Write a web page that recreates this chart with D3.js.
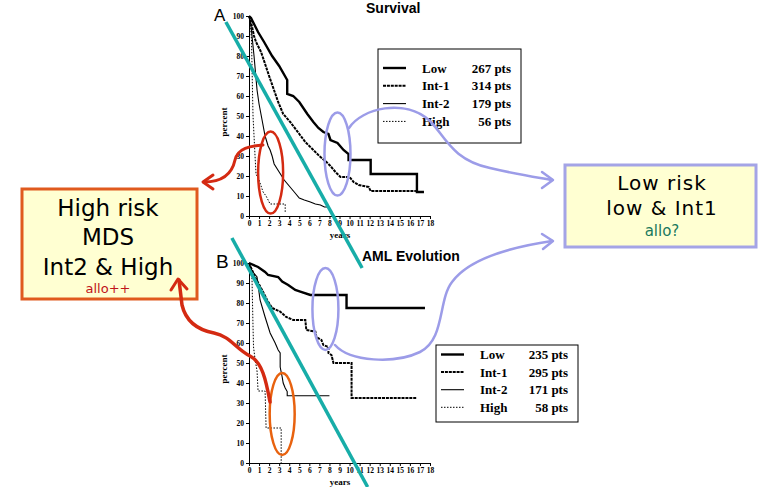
<!DOCTYPE html>
<html>
<head>
<meta charset="utf-8">
<script src="https://cdn.jsdelivr.net/npm/d3@7/dist/d3.min.js"></script>
<style>
  html, body { margin: 0; padding: 0; background: #fff; }
  svg { display: block; }
</style>
</head>
<body>
<div id="chart"></div>
<script>
// ---- Data: Kaplan-Meier estimates by IPSS risk group, [years, percent] ----
const groups = ["Low", "Int-1", "Int-2", "High"];
const survivalPts = [267, 314, 179, 56];
const amlPts = [235, 295, 171, 58];

const survLow  = [[0,100],[0.2,99],[0.4,97],[0.9,92],[1.5,87],[2.3,80],[3.0,75],[3.8,68],[3.8,61],[4.4,60],[5.0,57],[5.8,51],[6.4,47],[6.9,44],[7.4,42],[7.9,41],[8.1,38],[8.8,36.5],[9.4,33],[9.9,31],[9.9,28],[12.1,28],[12.1,21],[16.7,21],[16.7,12],[17.4,12]];
const survInt1 = [[0,100],[0.2,97],[0.5,90],[0.7,87],[1.2,82],[2.0,70],[2.9,57],[3.4,51],[4.1,47],[5.0,41],[5.6,37],[6.4,33],[7.0,30],[7.7,27],[8.1,25],[8.6,22],[9.1,19.5],[10.0,19.5],[10.4,17],[10.9,15.5],[11.9,14.5],[12.1,12.5],[16.6,12.5]];
const survInt2 = [[0,100],[0.2,95],[0.5,80],[0.8,63],[1.0,56],[1.3,48],[1.6,40],[1.9,35],[2.1,33],[2.3,30],[2.5,26],[3.0,22],[3.5,18],[4.0,15],[4.5,12],[5.0,9],[5.5,8],[6.1,7],[6.6,6],[7.1,5.5],[7.5,4.5],[7.9,4.5]];
const survHigh = [[0,100],[0.15,95],[0.25,88],[0.3,75],[0.35,62],[0.4,50],[0.5,40],[0.6,30],[0.7,21],[1.0,18],[1.2,15],[1.4,12],[1.7,10],[1.9,8],[2.1,6],[3.6,6],[3.6,1.5]];

const amlLow  = [[0,100],[0.9,98],[1.6,95.5],[1.9,94],[2.9,93],[3.3,90.7],[3.9,89],[4.6,86.5],[5.1,85.7],[6.1,84],[9.7,84],[9.7,77.5],[17.5,77.5]];
const amlInt1 = [[0,100],[0.6,93],[1.3,86.5],[1.8,81.5],[2.3,77.5],[3.1,75.7],[3.7,73],[4.4,71.5],[5.6,71.5],[5.7,66.5],[6.6,65.7],[6.7,63],[7.2,61.5],[7.4,59],[7.9,58],[7.9,55],[8.2,54],[8.4,50],[10.2,50],[10.2,32.5],[16.7,32.5]];
const amlInt2 = [[0,100],[0.3,96],[0.8,93],[1.1,81.5],[1.6,73],[2.1,65],[2.6,60],[2.9,56.5],[3.1,55],[3.1,48],[3.3,43],[3.4,40],[3.6,37.5],[3.8,35.7],[3.8,33.6],[8.0,33.6]];
const amlHigh = [[0,100],[0.15,96],[0.3,92],[0.35,80],[0.4,68],[0.45,58],[0.6,52],[0.8,46],[0.9,36],[1.6,36],[1.7,17.5],[3.2,17.5],[3.2,0]];

const yearTicks = d3.range(0, 19);
const pctTicks = d3.range(0, 101, 10);

// ---- Drawing ----
const W = 760, H = 487;
const svg = d3.select("#chart").append("svg").attr("width", W).attr("height", H);

const serif = "'Liberation Serif', 'Times New Roman', serif";
const sans = "'Liberation Sans', Arial, sans-serif";
const hand = "'Comic Sans MS', 'DejaVu Sans', sans-serif";

// line style per risk group
const styles = [
  { w: 2.4, dash: null },
  { w: 2.0, dash: "3,0.9" },
  { w: 1.1, dash: null },
  { w: 1.0, dash: "1.5,1.5" }
];

function panel(cfg) {
  const x = d3.scaleLinear().domain([0, 18]).range([249, 430]);
  const y = d3.scaleLinear().domain([0, 100]).range([cfg.y0, cfg.y0 - 200]);
  const g = svg.append("g");

  const yAxis = d3.axisLeft(y).tickValues(pctTicks).tickSize(3).tickPadding(2);
  const xAxis = d3.axisBottom(x).tickValues(yearTicks).tickSize(3).tickPadding(2);
  const gy = g.append("g").attr("transform", `translate(${x(0)},0)`).call(yAxis);
  const gx = g.append("g").attr("transform", `translate(0,${y(0)})`).call(xAxis);
  [gx, gy].forEach(a => {
    a.select(".domain").attr("stroke", "#000").attr("stroke-width", 1);
    a.selectAll(".tick line").attr("stroke", "#000");
    a.selectAll("text").attr("font-family", serif).attr("font-weight", "bold")
      .attr("font-size", 7.5).attr("fill", "#000");
  });

  g.append("text").attr("x", 340).attr("y", y(0) + 22)
    .attr("text-anchor", "middle").attr("font-family", serif).attr("font-weight", "bold")
    .attr("font-size", 9).text("years");
  g.append("text").attr("transform", `translate(227,${y(50) + 6}) rotate(-90)`)
    .attr("text-anchor", "middle").attr("font-family", serif).attr("font-weight", "bold")
    .attr("font-size", 9).text("percent");

  const line = d3.line().x(d => x(d[0])).y(d => y(d[1]));
  cfg.series.forEach((s, i) => {
    g.append("path").datum(s).attr("d", line).attr("fill", "none")
      .attr("stroke", "#000").attr("stroke-width", styles[i].w)
      .attr("stroke-dasharray", styles[i].dash).attr("stroke-linejoin", "miter");
  });

  // panel letter and title
  g.append("text").attr("x", cfg.letterX).attr("y", cfg.letterY)
    .attr("font-family", sans).attr("font-size", cfg.letterSize).text(cfg.letter);
  g.append("text").attr("x", cfg.titleX).attr("y", cfg.titleY)
    .attr("font-family", sans).attr("font-weight", "bold").attr("font-size", 14).text(cfg.title);

  // legend
  const L = cfg.legend;
  g.append("rect").attr("x", L.x).attr("y", L.y).attr("width", L.w).attr("height", L.h)
    .attr("fill", "#fff").attr("stroke", "#000").attr("stroke-width", 1);
  groups.forEach((name, i) => {
    const ry = L.y + L.first + i * L.step;
    g.append("line").attr("x1", L.x + 5).attr("x2", L.x + 28).attr("y1", ry).attr("y2", ry)
      .attr("stroke", "#000").attr("stroke-width", styles[i].w).attr("stroke-dasharray", styles[i].dash);
    g.append("text").attr("x", L.x + L.textX).attr("y", ry + 4.5)
      .attr("font-family", serif).attr("font-weight", "bold").attr("font-size", 13).text(name);
    g.append("text").attr("x", L.x + L.w - 10).attr("y", ry + 4.5).attr("text-anchor", "end")
      .attr("font-family", serif).attr("font-weight", "bold").attr("font-size", 13)
      .text(cfg.pts[i] + " pts");
  });
  return { x, y, g };
}

const A = panel({
  y0: 216, series: [survLow, survInt1, survInt2, survHigh], pts: survivalPts,
  letter: "A", letterX: 214, letterY: 21, letterSize: 17,
  title: "Survival", titleX: 366, titleY: 13,
  legend: { x: 378, y: 49, w: 143, h: 94, first: 19, step: 17.8, textX: 44 }
});
const B = panel({
  y0: 463, series: [amlLow, amlInt1, amlInt2, amlHigh], pts: amlPts,
  letter: "B", letterX: 216, letterY: 268, letterSize: 19,
  title: "AML Evolution", titleX: 362, titleY: 261,
  legend: { x: 436, y: 345, w: 142, h: 77, first: 9.5, step: 17.6, textX: 44 }
});

// ---- Text boxes ----
const boxes = svg.append("g");
boxes.append("rect").attr("x", 22).attr("y", 189).attr("width", 175).attr("height", 110)
  .attr("fill", "#FFFFD2").attr("stroke", "#E05A1E").attr("stroke-width", 3);
[["High risk", 216], ["MDS", 245], ["Int2 & High", 275]].forEach(([t, yy]) => {
  boxes.append("text").attr("x", 108).attr("y", yy).attr("text-anchor", "middle")
    .attr("font-family", hand).attr("font-size", 23).attr("fill", "#000").text(t);
});
boxes.append("text").attr("x", 108).attr("y", 293).attr("text-anchor", "middle")
  .attr("font-family", hand).attr("font-size", 13).attr("fill", "#C0141A").text("allo++");

boxes.append("rect").attr("x", 565).attr("y", 165).attr("width", 191).attr("height", 82)
  .attr("fill", "#FFFFD2").attr("stroke", "#A4A4E6").attr("stroke-width", 3);
[["Low risk", 190], ["low & Int1", 215]].forEach(([t, yy]) => {
  boxes.append("text").attr("x", 662).attr("y", yy).attr("text-anchor", "middle")
    .attr("font-family", hand).attr("font-size", 20).attr("letter-spacing", 1).attr("fill", "#000").text(t);
});
boxes.append("text").attr("x", 662).attr("y", 236).attr("text-anchor", "middle")
  .attr("font-family", hand).attr("font-size", 15).attr("fill", "#1A7A5E").text("allo?");

// ---- Annotations ----
const ann = svg.append("g");
const teal = "#17ADA8", purple = "#9C9CE8", red = "#D42A12", orange = "#E8620F";

// trend lines
ann.append("line").attr("x1", A.x(-2.3)).attr("y1", A.y(97)).attr("x2", A.x(11.25)).attr("y2", A.y(-26))
  .attr("stroke", teal).attr("stroke-width", 3.5);
ann.append("line").attr("x1", B.x(-1.7)).attr("y1", B.y(112.5)).attr("x2", B.x(11.8)).attr("y2", B.y(-12))
  .attr("stroke", teal).attr("stroke-width", 3.5);

// ellipses around the curves
function ellipse(p, cx, cy, rx, ry, color, w) {
  ann.append("ellipse").attr("cx", p.x(cx)).attr("cy", p.y(cy)).attr("rx", rx).attr("ry", ry)
    .attr("fill", "none").attr("stroke", color).attr("stroke-width", w);
}
ellipse(A, 2.15, 21.7, 12.5, 41, red, 2.5);
ellipse(A, 8.8, 31, 13, 41.5, purple, 2.5);
ellipse(B, 7.6, 77, 13, 41, purple, 2.5);
ellipse(B, 3.3, 24.5, 12.5, 41, orange, 2.5);

// connectors with open arrowheads
function connector(d, color, w) {
  ann.append("path").attr("d", d).attr("fill", "none").attr("stroke", color)
    .attr("stroke-width", w).attr("stroke-linecap", "round").attr("stroke-linejoin", "round");
}
connector("M263,145 C250,146 238,148 235,160 C232,174 222,182 204,182", red, 3);
connector("M213,175 L203,182 L213,189", red, 3);
connector("M270,402 C266,380 262,362 250,356 C236,349 230,336 214,333 C198,330 186,322 182,305 L179,280", red, 3.5);
connector("M171,290 L178,279 L187,289", red, 3);

connector("M349,128 C362,108 405,98 430,121 C445,136 452,160 490,168 C515,174 535,177 552,180", purple, 2.5);
connector("M542,172 L553,180 L542,188", purple, 2.5);
connector("M335,345 C350,362 395,364 420,352 C445,340 438,300 452,282 C468,260 505,248 552,241", purple, 2.5);
connector("M542,234 L553,241 L543,249", purple, 2.5);
</script>
</body>
</html>
